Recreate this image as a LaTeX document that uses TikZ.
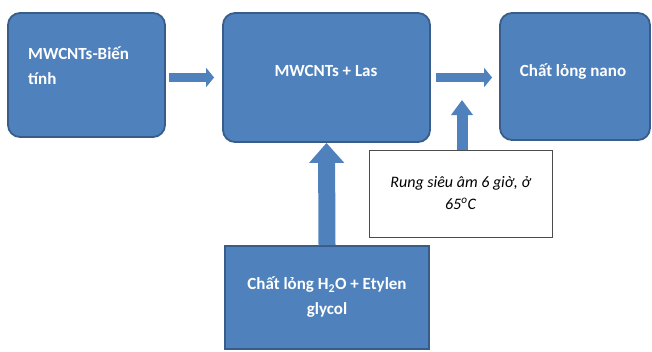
\documentclass[tikz,border=0pt]{standalone}
\usepackage{fontspec}
\setmainfont{Carlito}
\usepackage{tikz}
\usetikzlibrary{arrows.meta,positioning,calc}
\definecolor{boxblue}{HTML}{4F81BD}
\definecolor{boxedge}{HTML}{385D8A}
\tikzset{
  bluebox/.style={draw=boxedge, line width=1.8pt, fill=boxblue, rounded corners=12pt, text=white, font=\fontsize{17}{25}\selectfont\bfseries, align=center},
  feedbox/.style={bluebox, rounded corners=0pt},
  notebox/.style={draw=black!70, line width=1pt, fill=white, font=\fontsize{16}{22}\selectfont\itshape, align=center},
  boxtext/.style={text=white, font=\fontsize{17}{25}\selectfont\bfseries, align=left, inner sep=0pt},
  smallflow/.style={boxblue, line width=9pt, -{Triangle[width=19pt,length=8pt]}},
}

\begin{document}
\begin{tikzpicture}[x=1pt,y=-1pt]
  \useasboundingbox (0,0) rectangle (652,351);
  \node[bluebox, minimum width=157pt, minimum height=124pt] (mwcnt) at (86.5,75) {};
  \node[boxtext, anchor=west] (mwcnttext) at (28,65.5) {MWCNTs-Biến\\tính};
  \node[bluebox, minimum width=207pt, minimum height=129pt] (mix) at (326.5,77.5) {};
  \node[boxtext, align=center] (mixtext) at (326,71) {MWCNTs + Las};
  \node[bluebox, minimum width=150pt, minimum height=127pt] (nano) at (575,76.5) {};
  \node[boxtext, align=center] (nanotext) at (573,72) {Chất lỏng nano};
  \node[feedbox, minimum width=204pt, minimum height=103pt] (liquid) at (327,297.5) {Chất lỏng H\textsubscript{2}O + Etylen\\glycol};
  \node[notebox, minimum width=183pt, minimum height=87pt] (sonic) at (460.5,193.5) {Rung siêu âm 6 giờ, ở\\65\textsuperscript{o}C};
  \coordinate (sonicend) at (462,100);
  \draw[smallflow, shorten <=3pt, shorten >=8pt] (mwcnt.east |- mix) -- (mix.west);
  \draw[smallflow, shorten <=5pt, shorten >=7pt] (mix.east) -- (nano.west |- mix.east);
  \draw[boxblue, line width=11pt, -{Triangle[width=21pt,length=15pt]}] (sonicend |- sonic.north) -- (sonicend);
  \draw[boxblue, line width=17pt, -{Triangle[width=34pt,length=20pt]}] (liquid.north) -- (mix.south);
\end{tikzpicture}
\end{document}
